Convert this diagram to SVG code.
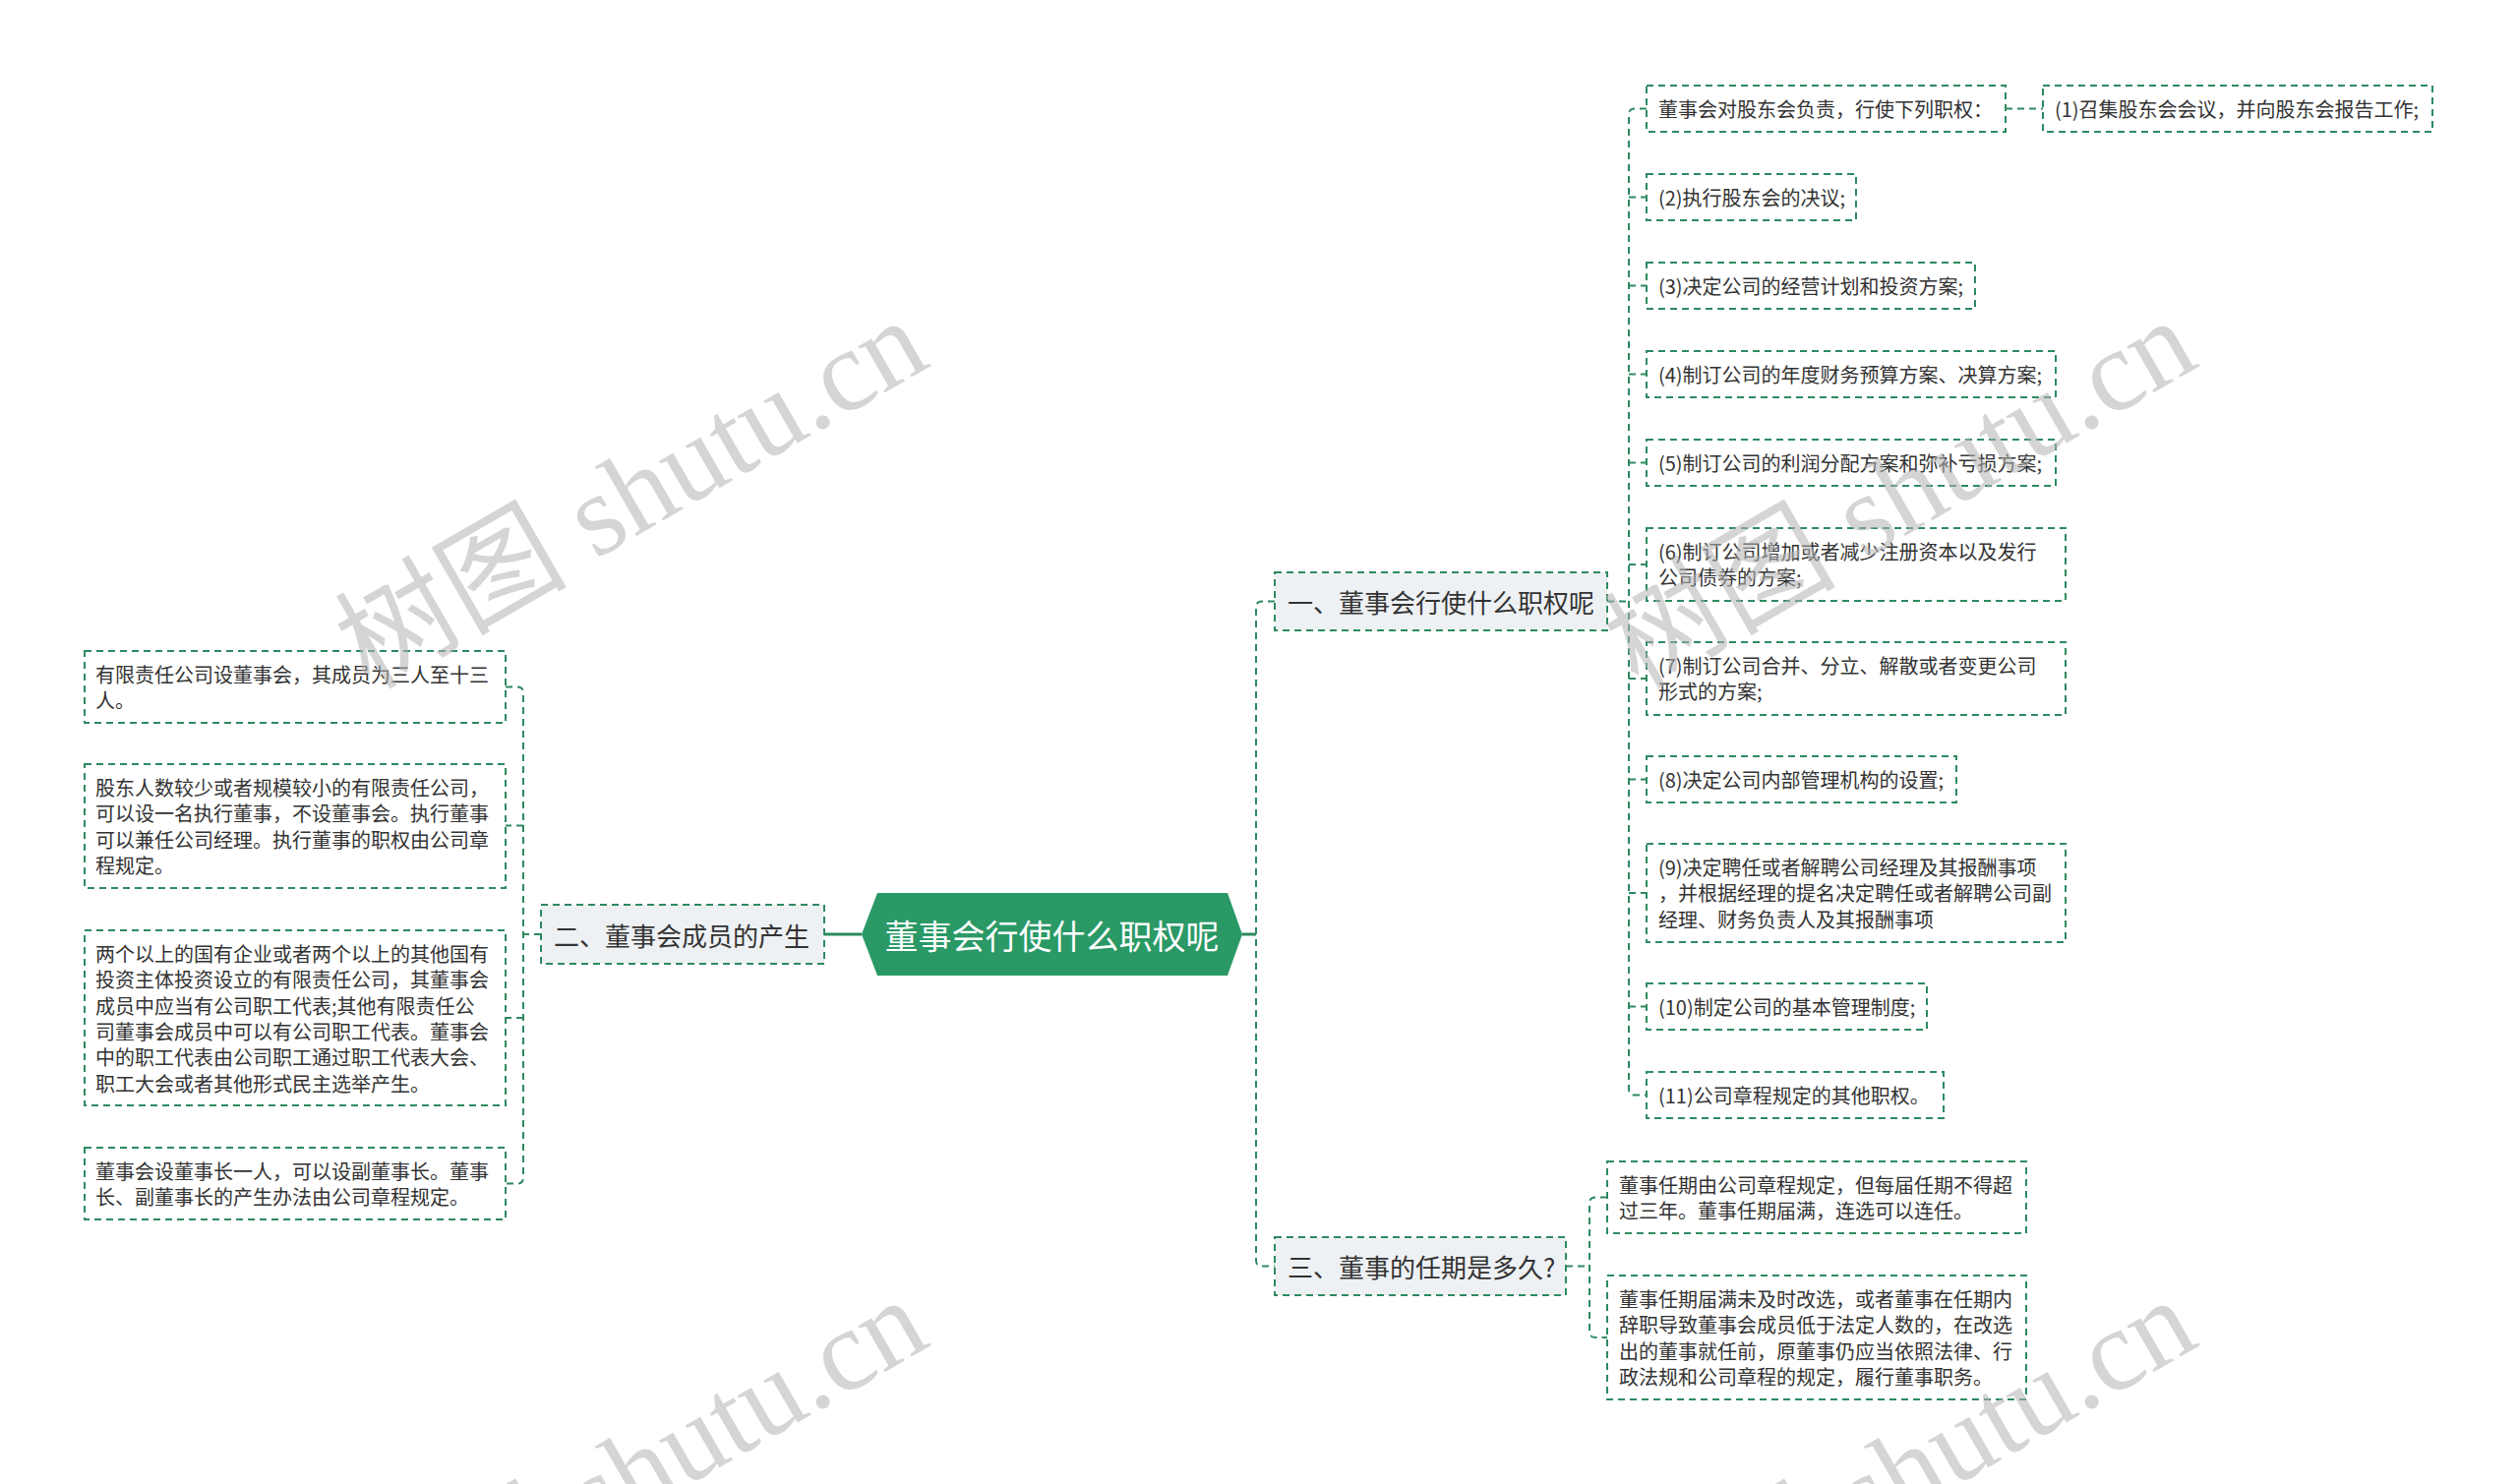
<svg xmlns="http://www.w3.org/2000/svg" width="2560" height="1509" viewBox="0 0 2560 1509">
<style>
.box{fill:#ffffff;stroke:#2d8a60;stroke-width:2;stroke-dasharray:7 5}
.l1{fill:#eef1f4;stroke:#2d8a60;stroke-width:2;stroke-dasharray:7 5}
.t{font-family:"Noto Sans CJK SC","Noto Sans",sans-serif;font-size:20px;fill:#333333;dominant-baseline:central}
.t1{font-family:"Noto Sans CJK SC","Noto Sans",sans-serif;font-size:26px;fill:#333333;dominant-baseline:central}
.tc{font-family:"Noto Sans CJK SC","Noto Sans",sans-serif;font-size:34px;fill:#ffffff;dominant-baseline:central;text-anchor:middle}
.c{fill:none;stroke:#2d8a60;stroke-width:2;stroke-dasharray:7 5}
.cs{fill:none;stroke:#2d8a60;stroke-width:3}
.wm{font-family:"Liberation Serif","Noto Sans CJK SC",serif;font-size:118px;fill:#b4b4b4;opacity:0.55}
</style>
<rect width="2560" height="1509" fill="#ffffff"/>
<g id="connectors">
<path class="cs" d="M838 950 H876"/>
<path class="cs" d="M1263 950 H1277"/>
<path class="c" d="M1296 611.5 H1283 Q1277 611.5 1277 617.5 V1281.5 Q1277 1287.5 1283 1287.5 H1296"/>
<path class="c" d="M1634 611.5 H1656"/>
<path class="c" d="M1674 110.5 H1662 Q1656 110.5 1656 116.5 V1107.5 Q1656 1113.5 1662 1113.5 H1674"/>
<path class="c" d="M1656 200.5 H1674 M1656 290.5 H1674 M1656 380.5 H1674 M1656 470.5 H1674 M1656 574 H1674 M1656 690 H1674 M1656 792.5 H1674 M1656 908 H1674 M1656 1023.5 H1674"/>
<path class="c" d="M2039 110.5 H2077"/>
<path class="c" d="M1592 1287.5 H1616"/>
<path class="c" d="M1634 1217.5 H1622 Q1616 1217.5 1616 1223.5 V1354 Q1616 1360 1622 1360 H1634"/>
<path class="c" d="M550 950 H532"/>
<path class="c" d="M514 698.5 H526 Q532 698.5 532 704.5 V1197.5 Q532 1203.5 526 1203.5 H514"/>
<path class="c" d="M532 839.5 H514 M532 1035 H514"/>
</g>
<g id="root">
<polygon points="892,908 1248,908 1263,950 1248,992 892,992 876,950" fill="#2a9966"/>
<text class="tc" x="1069.5" y="950">董事会行使什么职权呢</text>
</g>
<g id="n1">
<rect class="l1" x="1296" y="582" width="338" height="59"/>
<text class="t1" x="1309" y="611.5">一、董事会行使什么职权呢</text>
</g>
<g id="n2">
<rect class="l1" x="550" y="920" width="288" height="60"/>
<text class="t1" x="563" y="950">二、董事会成员的产生</text>
</g>
<g id="n3">
<rect class="l1" x="1296" y="1258" width="296" height="59"/>
<text class="t1" x="1309" y="1287.5">三、董事的任期是多久?</text>
</g>
<g id="n1-1">
<rect class="box" x="1674" y="87" width="365" height="47"/>
<text class="t" x="1686" y="110.5">董事会对股东会负责，行使下列职权：</text>
</g>
<g id="n1-1-1">
<rect class="box" x="2077" y="87" width="396" height="47"/>
<text class="t" x="2089" y="110.5">(1)召集股东会会议，并向股东会报告工作;</text>
</g>
<g id="n1-2">
<rect class="box" x="1674" y="177" width="213" height="47"/>
<text class="t" x="1686" y="200.5">(2)执行股东会的决议;</text>
</g>
<g id="n1-3">
<rect class="box" x="1674" y="267" width="334" height="47"/>
<text class="t" x="1686" y="290.5">(3)决定公司的经营计划和投资方案;</text>
</g>
<g id="n1-4">
<rect class="box" x="1674" y="357" width="416" height="47"/>
<text class="t" x="1686" y="380.5">(4)制订公司的年度财务预算方案、决算方案;</text>
</g>
<g id="n1-5">
<rect class="box" x="1674" y="447" width="416" height="47"/>
<text class="t" x="1686" y="470.5">(5)制订公司的利润分配方案和弥补亏损方案;</text>
</g>
<g id="n1-6">
<rect class="box" x="1674" y="537" width="426" height="74"/>
<text class="t" x="1686" y="560.5">(6)制订公司增加或者减少注册资本以及发行</text>
<text class="t" x="1686" y="586.8">公司债券的方案;</text>
</g>
<g id="n1-7">
<rect class="box" x="1674" y="653" width="426" height="74"/>
<text class="t" x="1686" y="676.5">(7)制订公司合并、分立、解散或者变更公司</text>
<text class="t" x="1686" y="702.8">形式的方案;</text>
</g>
<g id="n1-8">
<rect class="box" x="1674" y="769" width="315" height="47"/>
<text class="t" x="1686" y="792.5">(8)决定公司内部管理机构的设置;</text>
</g>
<g id="n1-9">
<rect class="box" x="1674" y="858" width="426" height="100"/>
<text class="t" x="1686" y="881.5">(9)决定聘任或者解聘公司经理及其报酬事项</text>
<text class="t" x="1686" y="907.8">，并根据经理的提名决定聘任或者解聘公司副</text>
<text class="t" x="1686" y="934.1">经理、财务负责人及其报酬事项</text>
</g>
<g id="n1-10">
<rect class="box" x="1674" y="1000" width="285" height="47"/>
<text class="t" x="1686" y="1023.5">(10)制定公司的基本管理制度;</text>
</g>
<g id="n1-11">
<rect class="box" x="1674" y="1090" width="302" height="47"/>
<text class="t" x="1686" y="1113.5">(11)公司章程规定的其他职权。</text>
</g>
<g id="n3-1">
<rect class="box" x="1634" y="1181" width="426" height="73"/>
<text class="t" x="1646" y="1204.5">董事任期由公司章程规定，但每届任期不得超</text>
<text class="t" x="1646" y="1230.8">过三年。董事任期届满，连选可以连任。</text>
</g>
<g id="n3-2">
<rect class="box" x="1634" y="1297" width="426" height="126"/>
<text class="t" x="1646" y="1320.5">董事任期届满未及时改选，或者董事在任期内</text>
<text class="t" x="1646" y="1346.8">辞职导致董事会成员低于法定人数的，在改选</text>
<text class="t" x="1646" y="1373.1">出的董事就任前，原董事仍应当依照法律、行</text>
<text class="t" x="1646" y="1399.4">政法规和公司章程的规定，履行董事职务。</text>
</g>
<g id="n2-1">
<rect class="box" x="86" y="662" width="428" height="73"/>
<text class="t" x="97" y="685.5">有限责任公司设董事会，其成员为三人至十三</text>
<text class="t" x="97" y="711.8">人。</text>
</g>
<g id="n2-2">
<rect class="box" x="86" y="777" width="428" height="126"/>
<text class="t" x="97" y="800.5">股东人数较少或者规模较小的有限责任公司，</text>
<text class="t" x="97" y="826.8">可以设一名执行董事，不设董事会。执行董事</text>
<text class="t" x="97" y="853.1">可以兼任公司经理。执行董事的职权由公司章</text>
<text class="t" x="97" y="879.4">程规定。</text>
</g>
<g id="n2-3">
<rect class="box" x="86" y="946" width="428" height="178"/>
<text class="t" x="97" y="969.5">两个以上的国有企业或者两个以上的其他国有</text>
<text class="t" x="97" y="995.8">投资主体投资设立的有限责任公司，其董事会</text>
<text class="t" x="97" y="1022.1">成员中应当有公司职工代表;其他有限责任公</text>
<text class="t" x="97" y="1048.4">司董事会成员中可以有公司职工代表。董事会</text>
<text class="t" x="97" y="1074.7">中的职工代表由公司职工通过职工代表大会、</text>
<text class="t" x="97" y="1101">职工大会或者其他形式民主选举产生。</text>
</g>
<g id="n2-4">
<rect class="box" x="86" y="1167" width="428" height="73"/>
<text class="t" x="97" y="1190.5">董事会设董事长一人，可以设副董事长。董事</text>
<text class="t" x="97" y="1216.8">长、副董事长的产生办法由公司章程规定。</text>
</g>
<g id="watermark">
<text class="wm" transform="translate(375,702) rotate(-30)">树图 shutu.cn</text>
<text class="wm" transform="translate(1665,702) rotate(-30)">树图 shutu.cn</text>
<text class="wm" transform="translate(375,1698) rotate(-30)">树图 shutu.cn</text>
<text class="wm" transform="translate(1665,1698) rotate(-30)">树图 shutu.cn</text>
</g>
</svg>
